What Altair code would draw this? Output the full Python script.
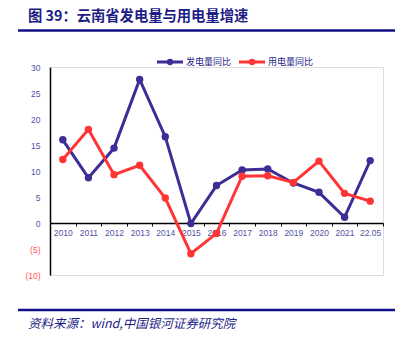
import altair as alt
import pandas as pd

years = ["2010", "2011", "2012", "2013", "2014", "2015", "2016",
         "2017", "2018", "2019", "2020", "2021", "22.05"]
gen_yoy = [16.0, 8.7, 14.4, 27.6, 16.6, -0.1, 7.2, 10.2, 10.4, 7.7, 5.9, 1.1, 12.0]
use_yoy = [12.2, 18.0, 9.3, 11.1, 4.8, -5.9, -2.0, 9.0, 9.1, 7.8, 11.9, 5.7, 4.2]
series_names = ["发电量同比", "用电量同比"]
series_colors = ["#3d2d95", "#ff3535"]
y_ticks = [-10, -5, 0, 5, 10, 15, 20, 25, 30]

title_text = "图 39：云南省发电量与用电量增速"
source_text = "资料来源：wind,中国银河证券研究院"

rows = []
for yr, g, u in zip(years, gen_yoy, use_yoy):
    rows.append({"year": yr, "series": series_names[0], "value": g})
    rows.append({"year": yr, "series": series_names[1], "value": u})
df = pd.DataFrame(rows)

W, H = 333, 208
NAVY = "#1c1c86"
LABEL = "#5252a8"
FONT = "Liberation Sans"
CJK = "Noto Sans CJK SC"

lines = alt.Chart(df).mark_line(
    strokeWidth=3,
    point=alt.OverlayMarkDef(size=55, filled=True, opacity=1),
).encode(
    x=alt.X("year:N", sort=years, bandPosition=0.5,
            scale=alt.Scale(type="band", paddingInner=0, paddingOuter=0),
            axis=alt.Axis(title=None, labelAngle=0, offset=-52, tickBand="extent",
                          domainColor="#000000", domainWidth=1.5,
                          tickColor="#000000", tickSize=3, tickWidth=1,
                          labelColor=LABEL, labelFont=FONT, labelFontSize=8.5,
                          labelPadding=2, grid=False)),
    y=alt.Y("value:Q", scale=alt.Scale(domain=[-10, 30], nice=False, zero=False),
            axis=alt.Axis(title=None, values=y_ticks, grid=False, ticks=False,
                          domainColor="#000000", domainWidth=1.5,
                          labelExpr="datum.value < 0 ? '(' + abs(datum.value) + ')' : datum.value",
                          labelColor={"condition": {"test": "datum.value < 0", "value": "#ff5050"},
                                      "value": LABEL},
                          labelFont=FONT, labelFontSize=8.5, labelPadding=10)),
    color=alt.Color("series:N", sort=series_names,
                    scale=alt.Scale(domain=series_names, range=series_colors),
                    legend=None),
)

one = alt.Data(values=[{}])

layers = [lines]

# manual legend
legend_x = [107, 189]
for i, name in enumerate(series_names):
    lx = legend_x[i]
    layers.append(alt.Chart(one).mark_rule(color=series_colors[i], strokeWidth=3).encode(
        x=alt.value(lx), x2=alt.value(lx + 26), y=alt.value(-5)))
    layers.append(alt.Chart(one).mark_point(filled=True, size=40, opacity=1,
                                            color=series_colors[i]).encode(
        x=alt.value(lx + 13), y=alt.value(-5)))
    layers.append(alt.Chart(one).mark_text(align="left", baseline="middle", font=CJK,
                                           fontSize=9, color=NAVY).encode(
        x=alt.value(lx + 29), y=alt.value(-5), text=alt.value(name)))

title = alt.Chart(one).mark_text(
    align="left", baseline="middle", font=CJK, fontSize=14.3, fontWeight="bold",
    color=NAVY
).encode(x=alt.value(-22), y=alt.value(-50), text=alt.value(title_text))

rule_top = alt.Chart(one).mark_rule(color="#10108a", strokeWidth=2.5).encode(
    x=alt.value(-32), x2=alt.value(345), y=alt.value(-36.5))
rule_bot = alt.Chart(one).mark_rule(color="#10108a", strokeWidth=2.5).encode(
    x=alt.value(-32), x2=alt.value(345), y=alt.value(243))

source = alt.Chart(one).mark_text(
    align="left", baseline="middle", font=CJK, fontSize=12.5, fontStyle="italic",
    color=NAVY
).encode(x=alt.value(-22), y=alt.value(257), text=alt.value(source_text))

layers += [title, rule_top, rule_bot, source]

chart = alt.layer(*layers).properties(
    width=W, height=H,
    autosize=alt.AutoSizeParams(type="none"),
    padding={"left": 50, "top": 67, "right": 29, "bottom": 72},
).configure_view(stroke=None).configure(background="white")

chart.save("out.html", embed_options={"renderer": "svg", "actions": False})
